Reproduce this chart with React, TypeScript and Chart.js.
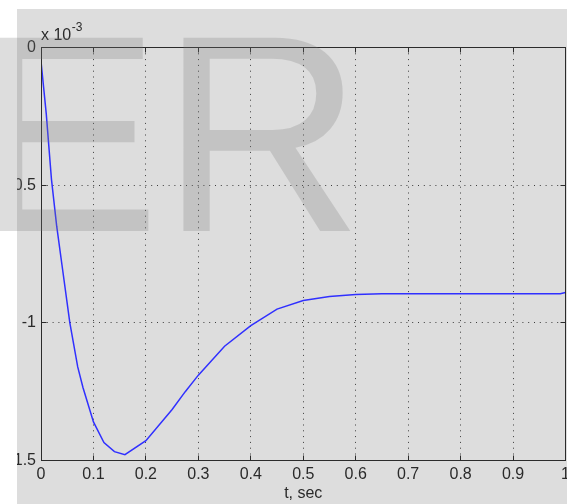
import React, { useEffect, useRef } from 'react';
import { Chart, registerables } from 'chart.js';

Chart.register(...registerables);

// Time samples (s) and response values (units of 1e-3)
const tValues = [0, 0.01, 0.02, 0.03, 0.04, 0.055, 0.07, 0.08, 0.1, 0.12, 0.14, 0.16, 0.2, 0.25, 0.275, 0.3, 0.35, 0.4, 0.45, 0.5, 0.55, 0.6, 0.65, 0.7, 0.75, 0.8, 0.85, 0.9, 0.95, 0.99, 1.0];
const yValues = [-0.05, -0.24, -0.48, -0.65, -0.79, -1.0, -1.16, -1.235, -1.36, -1.435, -1.468, -1.479, -1.428, -1.315, -1.25, -1.19, -1.085, -1.01, -0.95, -0.919, -0.904, -0.897, -0.894, -0.894, -0.894, -0.894, -0.894, -0.894, -0.894, -0.894, -0.89];

const xTicks = [0, 0.1, 0.2, 0.3, 0.4, 0.5, 0.6, 0.7, 0.8, 0.9, 1];
const xTickLabels = ['0', '0.1', '0.2', '0.3', '0.4', '0.5', '0.6', '0.7', '0.8', '0.9', '1'];
const yTicks = [-1.5, -1, -0.5, 0];
const yTickLabels = ['-1.5', '-1', '-0.5', '0'];
const xTitle = 't, sec';
const exponentBase = 'x 10';
const exponentPower = '-3';
const watermark = 'ER';

const FONT = "'Liberation Sans', Arial, Helvetica, sans-serif";
const BG = '#dddddd';
const AXIS_COLOR = '#2b2b2b';
const GRID_COLOR = '#3c3c3c';
const TEXT_COLOR = '#2a2a2a';
const LINE_COLOR = '#3030ff';

const snap = (v: number) => Math.floor(v) + 0.5;

const matlabPlugin = {
  id: 'matlabLook',
  beforeDraw(chart: any) {
    const { ctx, width, height } = chart;
    const { left, right, top, bottom } = chart.chartArea;
    ctx.save();
    ctx.fillStyle = '#ffffff';
    ctx.fillRect(0, 0, width, height);
    ctx.fillStyle = BG;
    ctx.fillRect(17, 9, width - 17, height - 9);
    ctx.strokeStyle = GRID_COLOR;
    ctx.lineWidth = 1;
    ctx.setLineDash([1, 4.8]);
    const xs = chart.scales.x;
    const ys = chart.scales.y;
    xTicks.forEach((v) => {
      const px = snap(xs.getPixelForValue(v));
      ctx.beginPath();
      ctx.moveTo(px, top);
      ctx.lineTo(px, bottom);
      ctx.stroke();
    });
    yTicks.forEach((v) => {
      const py = snap(ys.getPixelForValue(v));
      ctx.beginPath();
      ctx.moveTo(left, py);
      ctx.lineTo(right, py);
      ctx.stroke();
    });
    ctx.restore();
  },
  afterDraw(chart: any) {
    const { ctx, width, height } = chart;
    const { left, right, top, bottom } = chart.chartArea;
    const xs = chart.scales.x;
    const ys = chart.scales.y;
    ctx.save();
    ctx.setLineDash([]);
    ctx.strokeStyle = AXIS_COLOR;
    ctx.lineWidth = 1;
    const L = snap(left), R = snap(right), T = snap(top), B = snap(bottom);
    ctx.strokeRect(L, T, R - L, B - T);
    const seg = (x1: number, y1: number, x2: number, y2: number) => {
      ctx.beginPath();
      ctx.moveTo(x1, y1);
      ctx.lineTo(x2, y2);
      ctx.stroke();
    };
    xTicks.forEach((v) => {
      const px = snap(xs.getPixelForValue(v));
      seg(px, B, px, B - 5);
      seg(px, T, px, T + 5);
    });
    yTicks.forEach((v) => {
      const py = snap(ys.getPixelForValue(v));
      seg(L, py, L + 5, py);
      seg(R, py, R - 5, py);
    });
    // white margins of the cropped figure
    ctx.fillStyle = '#ffffff';
    ctx.fillRect(0, 0, 17, height);
    ctx.fillRect(0, 0, width, 9);
    // exponent label
    ctx.fillStyle = TEXT_COLOR;
    ctx.textAlign = 'left';
    ctx.textBaseline = 'alphabetic';
    ctx.font = `16px ${FONT}`;
    ctx.fillText(exponentBase, 41, 39.5);
    const w = ctx.measureText(exponentBase).width;
    ctx.font = `12px ${FONT}`;
    ctx.fillText(exponentPower, 41 + w + 0.5, 31);
    // watermark
    ctx.font = `281px ${FONT}`;
    ctx.fillStyle = 'rgba(120,120,120,0.25)';
    ctx.fillText(watermark, -27, 231);
    ctx.restore();
  },
};

export default function App() {
  const ref = useRef<HTMLCanvasElement>(null);
  useEffect(() => {
    const canvas = ref.current;
    if (!canvas) return;
    const chart = new Chart(canvas, {
      type: 'line',
      data: {
        datasets: [
          {
            data: tValues.map((t, i) => ({ x: t, y: yValues[i] })),
            borderColor: LINE_COLOR,
            borderWidth: 1.5,
            pointRadius: 0,
            tension: 0,
            fill: false,
          },
        ],
      },
      options: {
        animation: false,
        responsive: false,
        maintainAspectRatio: false,
        layout: { padding: { top: 47.5, right: 1.5, left: 0, bottom: 0 } },
        plugins: { legend: { display: false }, tooltip: { enabled: false } },
        scales: {
          x: {
            type: 'linear',
            position: 'bottom',
            min: 0,
            max: 1,
            afterBuildTicks: (s: any) => {
              s.ticks = xTicks.map((v) => ({ value: v }));
            },
            afterFit: (s: any) => {
              s.height = 43.5;
              s.paddingLeft = 0;
              s.paddingRight = 0;
            },
            ticks: {
              autoSkip: false,
              maxRotation: 0,
              minRotation: 0,
              padding: 4,
              color: TEXT_COLOR,
              font: { family: FONT, size: 16 },
              callback: (_v: any, i: number) => xTickLabels[i],
            },
            grid: { display: false, drawTicks: false },
            border: { display: false },
            title: {
              display: true,
              text: xTitle,
              color: TEXT_COLOR,
              font: { family: FONT, size: 16 },
              padding: { top: 0, bottom: 1 },
            },
          },
          y: {
            type: 'linear',
            position: 'left',
            min: -1.5,
            max: 0,
            afterBuildTicks: (s: any) => {
              s.ticks = yTicks.map((v) => ({ value: v }));
            },
            afterFit: (s: any) => {
              s.width = 41;
              s.paddingTop = 0;
              s.paddingBottom = 0;
            },
            ticks: {
              autoSkip: false,
              padding: 5,
              color: TEXT_COLOR,
              font: { family: FONT, size: 16 },
              callback: (_v: any, i: number) => yTickLabels[i],
            },
            grid: { display: false, drawTicks: false },
            border: { display: false },
          },
        },
      },
      plugins: [matlabPlugin],
    } as any);
    return () => chart.destroy();
  }, []);
  return (
    <div style={{ position: 'absolute', left: 0, top: 0, width: 567, height: 504, background: '#fff' }}>
      <canvas ref={ref} width={567} height={504} style={{ display: 'block', width: 567, height: 504 }} />
    </div>
  );
}
